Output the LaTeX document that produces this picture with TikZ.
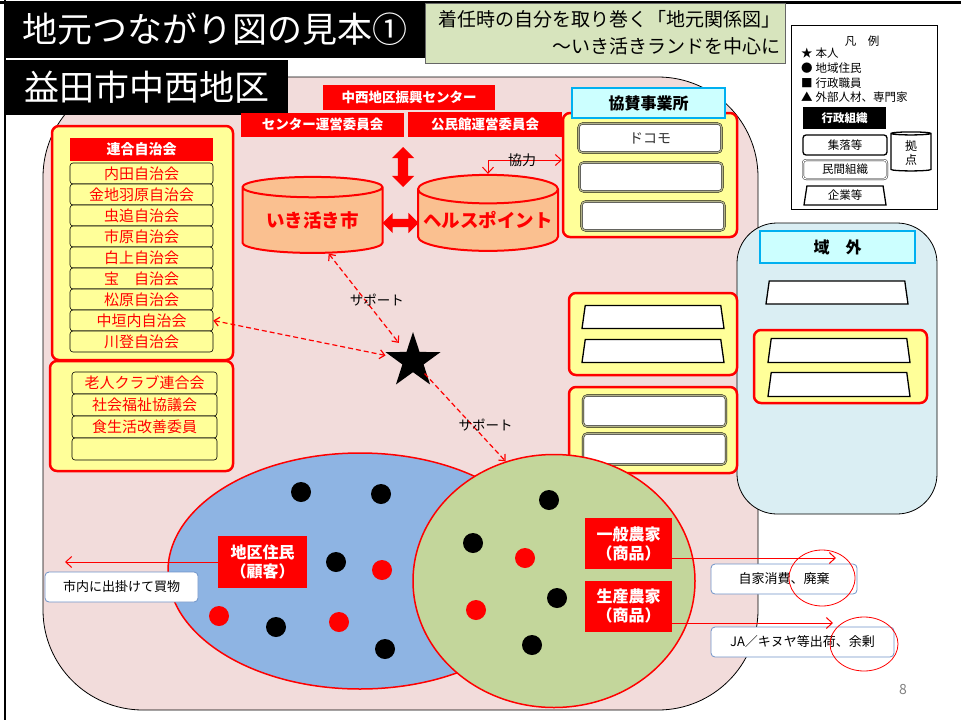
\documentclass[tikz,border=0pt]{standalone}
\usepackage{fontspec}
\setmainfont{Noto Sans CJK JP}
\usetikzlibrary{shapes.geometric,shapes.arrows,arrows.meta}

\definecolor{myred}{HTML}{FF0000}
\definecolor{pinkbg}{HTML}{F2DCDB}
\definecolor{myyellow}{HTML}{FFFF99}
\definecolor{cylorange}{HTML}{FAC090}
\definecolor{farmgreen}{HTML}{C3D69B}
\definecolor{resblue}{HTML}{8EB4E3}
\definecolor{outblue}{HTML}{DAEEF3}
\definecolor{hdrcyan}{HTML}{CCFFFF}
\definecolor{hdrborder}{HTML}{00B0F0}
\definecolor{ttlgreen}{HTML}{D7E4BD}
\definecolor{notebord}{HTML}{6F93C8}

\newcommand{\fsz}[1]{\fontsize{#1}{#1}\selectfont}

\tikzset{
  redlbl/.style={fill=myred, text=white, font=\bfseries\fsz{13.5}, inner sep=0pt},
  grpbox/.style={draw=myred, line width=2.5pt, fill=myyellow, rounded corners=7pt, inner sep=0pt},
  jichi/.style={draw=black, line width=0.6pt, fill=myyellow, rounded corners=3pt, text=myred, font=\fsz{15}, inner sep=0pt, minimum width=143pt, minimum height=21pt},
  kigyo/.style={draw=black, double=gray!60!myyellow, double distance=1.3pt, fill=white, rounded corners=4pt, inner sep=0pt, minimum width=143pt, minimum height=29pt},
  shop/.style={trapezium, trapezium left angle=77, trapezium right angle=77, trapezium stretches body=true, draw=black, line width=1.3pt, fill=white, inner sep=1pt, minimum width=142pt, minimum height=23pt},
  hdr/.style={draw=hdrborder, line width=2pt, fill=hdrcyan, font=\bfseries\fsz{16}, inner sep=0pt},
  kyoten/.style={cylinder, shape border rotate=90, aspect=0.22, draw=myred, line width=2pt, fill=cylorange, text=myred, font=\bfseries\fsz{18.5}, inner sep=0pt, minimum width=140pt, minimum height=76pt},
  blockarrow/.style={double arrow, fill=myred, inner xsep=0pt, inner ysep=5pt, double arrow head extend=6pt, double arrow head indent=0pt},
  farm/.style={fill=myred, text=white, font=\bfseries\fontsize{16}{19}\selectfont, align=center, inner sep=0pt, minimum width=87pt, minimum height=51pt},
  note/.style={draw=notebord, line width=0.8pt, fill=white, rounded corners=4pt, font=\fsz{13}, inner sep=0pt, minimum height=30pt},
  resident/.style={circle, fill=black, inner sep=0pt, minimum size=20pt},
  sup/.style={draw=myred, line width=1.2pt, dash pattern=on 5pt off 3pt, {Straight Barb[length=5pt,width=9pt]}-{Straight Barb[length=5pt,width=9pt]}},
  supone/.style={sup, -{Straight Barb[length=5pt,width=9pt]}},
  flow/.style={draw=myred, line width=1pt, -{Straight Barb[length=6pt,width=11pt]}},
  suplbl/.style={font=\fsz{13.5}},
  legtxt/.style={anchor=west, font=\fsz{11.5}, inner sep=0pt}
}

\begin{document}
\begin{tikzpicture}[x=1pt, y=-1pt]
  \useasboundingbox (0,0) rectangle (961,720);

  \draw[line width=3pt] (0,2) -- (961,2);
  \draw[line width=2.5pt] (5,0) -- (5,720);
  \draw[fill=pinkbg, line width=0.8pt, rounded corners=100pt] (43,77) rectangle (758,710);
  \draw[fill=outblue, line width=0.8pt, rounded corners=40pt] (737,223) rectangle (937,514);

  \node[fill=black, text=white, font=\fsz{35}, minimum width=420pt, minimum height=57pt, inner sep=0pt] (title) at (215,29) {地元つながり図の見本①};
  \node[fill=black, text=white, font=\fsz{35}, minimum width=283pt, minimum height=55pt, inner sep=0pt] (area) at (146.5,87.5) {益田市中西地区};
  \node[draw=black!60, line width=1pt, fill=ttlgreen, font=\fontsize{19}{27}\selectfont, align=right, text width=350pt, inner sep=0pt, minimum width=360pt, minimum height=60pt] (sub) at (605,33) {着任時の自分を取り巻く「地元関係図」\\〜いき活きランドを中心に};

  \node[draw, line width=0.8pt, fill=white, minimum width=146pt, minimum height=184pt, inner sep=0pt] (legend) at (864,117) {};
  \node[font=\fsz{11.5}, inner sep=0pt] (hanrei) at (862,41) {凡　例};
  \node[legtxt] (lg1) at (801,53) {★\hspace{3pt}本人};
  \node[legtxt] (lg2) at (801,68) {●\hspace{3pt}地域住民};
  \node[legtxt] (lg3) at (801,83) {■\hspace{3pt}行政職員};
  \node[legtxt] (lg4) at (801,97) {▲\hspace{3pt}外部人材、専門家};
  \node[fill=black, text=white, font=\bfseries\fsz{11.5}, minimum width=83pt, minimum height=22pt, inner sep=0pt] (lggyosei) at (844.5,118) {行政組織};
  \node[draw, line width=1.3pt, rounded corners=3pt, font=\fsz{11.5}, minimum width=84pt, minimum height=20pt, inner sep=0pt] (lgshuraku) at (845,145) {集落等};
  \node[draw, double, double distance=1.2pt, rounded corners=3pt, font=\fsz{11.5}, minimum width=84pt, minimum height=19pt, inner sep=0pt] (lgminkan) at (845,169.5) {民間組織};
  \node[cylinder, shape border rotate=90, aspect=0.25, draw, line width=1.3pt, fill=white, font=\fontsize{12}{14}\selectfont, align=center, minimum width=40pt, minimum height=39pt, inner sep=0pt] (lgkyoten) at (911,152.5) {拠\\点};
  \node[shop, minimum width=82pt, minimum height=19pt, font=\fsz{11.5}] (lgkigyo) at (845,195.5) {企業等};

  \begin{scope}[every node/.style={redlbl}]
    \node[minimum width=172pt, minimum height=25pt] (shinko) at (409,97.5) {中西地区振興センター};
    \node[minimum width=163pt, minimum height=24pt] (centerunei) at (322.5,124.5) {センター運営委員会};
    \node[minimum width=154pt, minimum height=25pt] (kominkan) at (485,124.5) {公民館運営委員会};
  \end{scope}

  \node[kyoten] (ikiichi) at (312.5,220.5) {いき活き市};
  \node[kyoten] (health) at (488,220.5) {ヘルスポイント};
  \node[blockarrow, rotate=90, minimum height=40pt] (updown) at (403,167) {};
  \node[blockarrow, minimum height=36pt, inner ysep=4pt] (leftright) at (400.5,223) {};

  \node[grpbox, minimum width=181pt, minimum height=234pt] (rengobox) at (142.5,243) {};
  \node[redlbl, font=\bfseries\fsz{14}, minimum width=143pt, minimum height=23pt] (rengo) at (141.5,149.5) {連合自治会};
  \begin{scope}[every node/.style={jichi}]
    \node (uchida) at (141.5,173.5) {内田自治会};
    \node (kanaji) at (141.5,194.5) {金地羽原自治会};
    \node (mushioi) at (141.5,215.5) {虫追自治会};
    \node (ichihara) at (141.5,236.5) {市原自治会};
    \node (shirakami) at (141.5,257.5) {白上自治会};
    \node (takara) at (141.5,278.5) {宝　自治会};
    \node (matsubara) at (141.5,299.5) {松原自治会};
    \node (nakagaito) at (141.5,320.5) {中垣内自治会};
    \node (kawanobori) at (141.5,341.5) {川登自治会};
  \end{scope}

  \node[grpbox, minimum width=183pt, minimum height=110pt] (dantaibox) at (141.5,416) {};
  \begin{scope}[every node/.style={jichi, minimum width=145pt, minimum height=22pt}]
    \node (rojin) at (144.5,383) {老人クラブ連合会};
    \node (shakyo) at (144.5,405) {社会福祉協議会};
    \node (shokuseikatsu) at (144.5,427) {食生活改善委員};
    \node (dantaiempty) at (144.5,449) {};
  \end{scope}

  \node[grpbox, minimum width=174pt, minimum height=124pt] (kyosanbox) at (650,175) {};
  \node[hdr, minimum width=153pt, minimum height=30pt] (kyosan) at (648.5,103) {協賛事業所};
  \begin{scope}[every node/.style={kigyo}]
    \node[font=\fsz{14}, text=black!80] (docomo) at (650,138) {ドコモ};
    \node (kyosan2) at (651,177) {};
    \node (kyosan3) at (653,216) {};
  \end{scope}

  \node[grpbox, minimum width=168pt, minimum height=82pt] (shopbox) at (653,334) {};
  \node[grpbox, minimum width=168pt, minimum height=86pt] (kigyobox) at (653,430) {};
  \begin{scope}[every node/.style={shop}]
    \node (shop1) at (653,317) {\strut};
    \node (shop2) at (653,351) {\strut};
  \end{scope}
  \begin{scope}[every node/.style={kigyo, minimum height=31pt}]
    \node (kigyo1) at (654.5,411) {};
    \node (kigyo2) at (654.5,449) {};
  \end{scope}

  \node[hdr, minimum width=155pt, minimum height=32pt] (ikigai) at (837.5,247) {域　外};
  \node[shop] (outshop) at (837,292.5) {\strut};
  \node[grpbox, minimum width=173pt, minimum height=73pt] (outbox) at (840.5,366.5) {};
  \begin{scope}[every node/.style={shop, minimum height=24pt}]
    \node (outshop1) at (839,350.5) {\strut};
    \node (outshop2) at (839,384.5) {\strut};
  \end{scope}

  \node[ellipse, draw=myred, line width=1.5pt, fill=resblue, minimum width=384pt, minimum height=236pt, inner sep=0pt] (chikuell) at (360,571) {};
  \node[ellipse, draw=myred, line width=1.5pt, fill=farmgreen, minimum width=282pt, minimum height=253pt, inner sep=0pt] (noukaell) at (554,581) {};

  \begin{scope}[every node/.style={resident}]
    \node (b1) at (301,492) {};
    \node (b2) at (381,494) {};
    \node (b3) at (336,562) {};
    \node (b4) at (276,627) {};
    \node (b5) at (385,649) {};
    \node (b6) at (549,500) {};
    \node (b7) at (473,543) {};
    \node (b8) at (557,598) {};
    \node (b9) at (532,645) {};
    \node[fill=myred] (r1) at (382,570) {};
    \node[fill=myred] (r2) at (219,616) {};
    \node[fill=myred] (r3) at (339,622) {};
    \node[fill=myred] (r4) at (525,558) {};
    \node[fill=myred] (r5) at (476,610) {};
  \end{scope}

  \node[farm, minimum width=89pt, minimum height=52pt] (chiku) at (262.5,562) {地区住民\\（顧客）};
  \node[farm] (ippan) at (628.5,543.5) {一般農家\\（商品）};
  \node[farm] (seisan) at (628.5,606) {生産農家\\（商品）};

  \node[note, minimum width=153pt] (kaimono) at (121.5,587) {市内に出掛けて買物};
  \node[note, minimum width=146pt] (jika) at (784,579) {自家消費、廃棄};
  \node[note, minimum width=183pt] (shuka) at (802.5,642) {JA／キヌヤ等出荷、余剰};

  \node[star, star points=5, star point ratio=2.6, fill=black, inner sep=0pt, minimum size=58pt] (me) at (413,361) {};

  \coordinate (kaimonoend) at (65,562);
  \coordinate (jikaend) at (836,558);
  \coordinate (shukaend) at (833,623);
  \coordinate (kyoryokuend) at (562,160);

  \draw[sup, shorten >=23pt] (ikiichi.-64) -- (me.center) node[suplbl, pos=0.43, xshift=12pt] {サポート};
  \draw[sup, shorten >=28pt] (nakagaito.east) -- (me.center);
  \draw[supone, shorten <=17pt] (me.center) -- (noukaell.112) node[suplbl, pos=0.6, xshift=17pt, yshift=-4pt] {サポート};

  \draw[flow] (chiku.west) -- (kaimonoend);
  \draw[flow] (ippan.east |- jikaend) -- (jikaend);
  \draw[flow] (seisan.east |- shukaend) -- (shukaend);
  \draw[flow, {Straight Barb[length=6pt,width=11pt]}-{Straight Barb[length=6pt,width=11pt]}] (health.north) |- (kyoryokuend) node[pos=0.73, font=\fsz{14}] {協力};

  \draw[myred, line width=0.8pt] (822,578) ellipse (33 and 28);
  \draw[myred, line width=0.8pt] (864,644) ellipse (34 and 27);

  \node[text=gray, font=\fsz{14}] (pgno) at (903,690) {8};
\end{tikzpicture}
\end{document}
